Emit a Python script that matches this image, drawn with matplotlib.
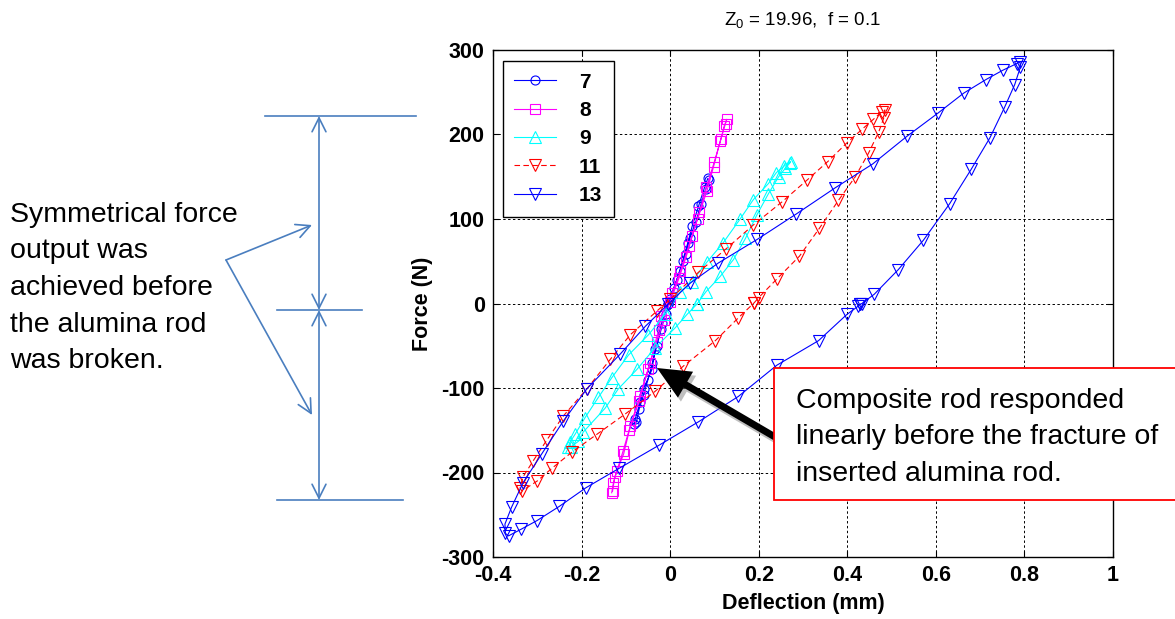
import matplotlib
matplotlib.use('Agg')
import matplotlib.pyplot as plt
from matplotlib.transforms import Affine2D
from matplotlib.patches import FancyArrow, Rectangle, FancyArrowPatch
from matplotlib.lines import Line2D

W, H = 1175, 619
NARROW = ['Liberation Sans Narrow', 'Liberation Sans', 'DejaVu Sans']
plt.rcParams['font.family'] = NARROW
plt.rcParams['mathtext.default'] = 'regular'

# ---------------- data ----------------
series_labels = ['7', '8', '9', '11', '13']

x7 = [-0.005, 0.008, 0.022, 0.035, 0.045, 0.058, 0.070, 0.080, 0.088,
      0.085, 0.078, 0.064, 0.050, 0.040, 0.028, 0.015, 0.000, -0.019, -0.034, -0.041, -0.060, -0.068, -0.079, -0.082,
      -0.076, -0.070, -0.060, -0.050, -0.040, -0.030, -0.020, -0.010, -0.005]
y7 = [0, 18, 38, 58, 78, 97, 118, 135, 146,
      148, 138, 115, 92, 72, 50, 28, 5, -23, -54, -78, -101, -117, -137, -143,
      -140, -125, -108, -90, -70, -50, -30, -12, 0]

x8 = [-0.130, -0.125, -0.105, -0.092, -0.070, -0.050, -0.030, -0.015, 0.000, 0.020, 0.036, 0.050, 0.066, 0.082, 0.100, 0.115, 0.122, 0.128,
      0.125, 0.113, 0.098, 0.083, 0.062, 0.042, 0.023, 0.004, -0.020, -0.026, -0.045, -0.068, -0.090, -0.106, -0.120, -0.128, -0.132]
y8 = [-222, -205, -178, -150, -115, -78, -45, -20, 2, 30, 55, 80, 108, 138, 168, 195, 210, 218,
      213, 192, 162, 133, 100, 68, 38, 12, -15, -31, -70, -109, -145, -174, -198, -212, -224]

x9 = [0.060, 0.081, 0.113, 0.143, 0.170, 0.196, 0.222, 0.245, 0.260, 0.270, 0.272,
      0.258, 0.240, 0.222, 0.188, 0.158, 0.120, 0.083, 0.049, 0.023, -0.010, -0.049, -0.094, -0.132, -0.162, -0.192, -0.215, -0.226, -0.230,
      -0.225, -0.207, -0.196, -0.147, -0.117, -0.075, -0.035, 0.011, 0.038, 0.060]
y9 = [-1, 14, 32, 52, 77, 105, 130, 150, 160, 166, 168,
      163, 155, 142, 123, 100, 72, 49, 26, 14, -12, -37, -61, -88, -111, -135, -155, -164, -170,
      -170, -163, -152, -124, -101, -78, -53, -29, -13, -1]

x11 = [0.190, 0.200, 0.241, 0.292, 0.337, 0.380, 0.418, 0.448, 0.471, 0.482, 0.485, 0.478,
       0.459, 0.433, 0.399, 0.356, 0.309, 0.252, 0.188, 0.127, 0.064, 0.000, -0.030, -0.090, -0.135, -0.188, -0.241, -0.279, -0.309, -0.332, -0.339, -0.335,
       -0.300, -0.267, -0.222, -0.166, -0.102, -0.034, 0.030, 0.102, 0.154, 0.190]
y11 = [1, 7, 29, 56, 89, 122, 150, 178, 203, 219, 229, 227,
       218, 206, 190, 168, 146, 120, 93, 65, 37, 5, -9, -37, -66, -101, -133, -162, -186, -205, -218, -222,
       -210, -195, -176, -155, -131, -104, -74, -44, -17, 1]

x13 = [0.429, 0.433, 0.461, 0.515, 0.572, 0.631, 0.680, 0.722, 0.755, 0.778, 0.791, 0.790, 0.783,
       0.751, 0.713, 0.663, 0.604, 0.535, 0.457, 0.373, 0.285, 0.197, 0.109, 0.045, -0.005, -0.056, -0.113, -0.188, -0.241, -0.290, -0.332, -0.358, -0.373, -0.372, -0.365,
       -0.336, -0.301, -0.250, -0.190, -0.115, -0.026, 0.064, 0.154, 0.241, 0.335, 0.399, 0.425, 0.429]
y13 = [-1, 0, 11, 40, 75, 118, 159, 196, 232, 259, 280, 286, 284,
       276, 265, 249, 225, 198, 165, 137, 106, 76, 48, 24, -1, -27, -60, -101, -139, -178, -212, -241, -261, -272, -275,
       -267, -257, -240, -218, -195, -168, -140, -110, -73, -44, -13, -3, -1]

xticks = [-0.4, -0.2, 0, 0.2, 0.4, 0.6, 0.8, 1]
xtick_labels = ['-0.4', '-0.2', '0', '0.2', '0.4', '0.6', '0.8', '1']
yticks = [-300, -200, -100, 0, 100, 200, 300]
ytick_labels = ['-300', '-200', '-100', '0', '100', '200', '300']

left_note = ['Symmetrical force', 'output was', 'achieved before', 'the alumina rod', 'was broken.']
box_note = ['Composite rod responded', 'linearly before the fracture of', 'inserted alumina rod.']

# ---------------- figure ----------------
fig = plt.figure(figsize=(W / 100, H / 100), dpi=100)
fig.patch.set_facecolor('white')
ax = fig.add_axes([493 / W, (H - 557) / H, 620 / W, 507 / H])

series = [
    (x7, y7, dict(color=(0, 0, 1), marker='o', ls='-', ms=6.5)),
    (x8, y8, dict(color=(1, 0, 1), marker='s', ls='-', ms=7)),
    (x9, y9, dict(color=(0, 1, 1), marker='^', ls='-', ms=8)),
    (x11, y11, dict(color=(1, 0, 0), marker='v', ls=(0, (5, 3)), ms=8)),
    (x13, y13, dict(color=(0, 0, 1), marker='v', ls='-', ms=8)),
]
for (xs, ys, st), lab in zip(series, series_labels):
    ax.plot(xs, ys, color=st['color'], marker=st['marker'], ls=st['ls'], ms=st['ms'],
            mfc='none', mec=st['color'], mew=0.8, lw=0.8, label=lab)

ax.set_xlim(-0.4, 1)
ax.set_ylim(-300, 300)
ax.set_xticks(xticks)
ax.set_xticklabels(xtick_labels)
ax.set_yticks(yticks)
ax.set_yticklabels(ytick_labels)
ax.tick_params(direction='in', top=True, right=True, length=4, width=0.8, labelsize=15.5, pad=6)
for t in ax.get_xticklabels() + ax.get_yticklabels():
    t.set_fontweight('bold')
ax.grid(True, ls=(0, (2.5, 2.5)), color='black', lw=0.7)
for sp in ax.spines.values():
    sp.set_linewidth(1.0)
ax.set_xlabel('Deflection (mm)', fontsize=15.5, fontweight='bold', labelpad=5)
ax.set_ylabel('Force (N)', fontsize=15.5, fontweight='bold', labelpad=6)
ax.set_title(r'$\mathregular{Z_0}$ = 19.96,  f = 0.1', fontsize=13.5, pad=18)

leg = ax.legend(loc='upper left', bbox_to_anchor=(0.016, 0.978), borderaxespad=0,
                prop=dict(weight='bold', size=15, family=NARROW), numpoints=1,
                handlelength=2.0, handletextpad=1.1, labelspacing=0.45, borderpad=0.55,
                fancybox=False, framealpha=1, edgecolor='black')
leg.get_frame().set_linewidth(1.0)

# ---------------- annotations (pixel coordinates) ----------------
pxT = Affine2D().scale(1 / W, 1 / H) + fig.transFigure


def P(x, y):
    return (x, H - y)


acol = '#4a7ebf'
for (x1, y1, x2, y2) in [(265, 116, 416, 116), (277, 310, 362, 310), (277, 500, 403, 500)]:
    fig.add_artist(Line2D([x1, x2], [H - y1, H - y2], transform=pxT, color=acol, lw=1.2))

for (a, b, style) in [((319, 116), (319, 310), '<->'), ((319, 310), (319, 500), '<->'),
                      ((226, 260), (312, 225), '->'), ((226, 260), (312, 415), '->')]:
    fig.add_artist(FancyArrowPatch(P(*a), P(*b), transform=pxT,
                                   arrowstyle=style + ',head_length=0.5,head_width=0.25',
                                   mutation_scale=20, color=acol, lw=1.2,
                                   shrinkA=0, shrinkB=0))

for i, s in enumerate(left_note):
    fig.text(10 / W, (H - (221.5 + 36.7 * i)) / H, s, fontsize=20.5, va='baseline', ha='left',
             family=NARROW)

# red box
fig.add_artist(Rectangle(P(774, 500), 420, 132, transform=pxT, fc='white', ec='red',
                         lw=1.3, zorder=5))
for i, s in enumerate(box_note):
    fig.text(796 / W, (H - (408 + 36.3 * i)) / H, s, fontsize=20.5, va='baseline', ha='left',
             family=NARROW, zorder=6)

# black arrow with shadow
tail = (775, 437)
tip = (657, 368)
for off, col, al in [((3, 4), '#808080', 0.5), ((0, 0), 'black', 1.0)]:
    tx, ty = P(tail[0] + off[0], tail[1] + off[1])
    hx, hy = P(tip[0] + off[0], tip[1] + off[1])
    fig.add_artist(FancyArrow(tx, ty, hx - tx, hy - ty, width=7, head_width=30, head_length=33,
                              length_includes_head=True, color=col, alpha=al, lw=0,
                              transform=pxT, zorder=4))

fig.savefig('out.png', dpi=100)
